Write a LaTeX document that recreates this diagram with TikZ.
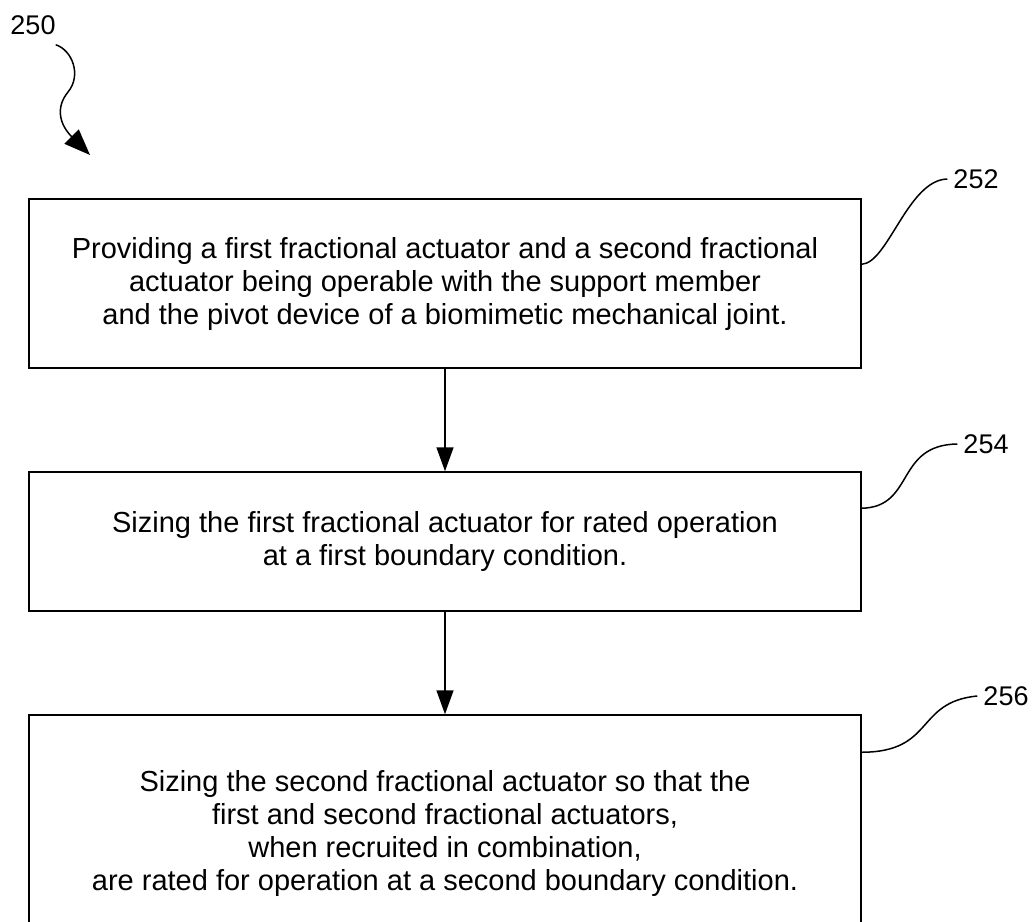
\documentclass[tikz,border=0pt]{standalone}
\usepackage{fontspec}
\setmainfont{Liberation Sans}
\usetikzlibrary{arrows.meta}
\tikzstyle{process} = [rectangle, draw, line width=1.5pt, minimum width=832pt, align=center, font=\fontsize{29pt}{33pt}\selectfont]
\tikzstyle{refnum} = [inner sep=6pt, font=\fontsize{27pt}{32pt}\selectfont]
\tikzstyle{leader} = [line width=1.5pt]
\tikzstyle{arrow} = [line width=1.5pt, -{Triangle[length=24pt,width=17pt]}]

\begin{document}
\begin{tikzpicture}[x=1pt, y=-1pt]
    \useasboundingbox (0,0) rectangle (1035,921);
    \clip (0,0) rectangle (1035,921);

    \node [process, minimum height=169pt] at (445,283.5) (box1) {Providing a first fractional actuator and a second fractional\\actuator being operable with the support member\\and the pivot device of a biomimetic mechanical joint.};
    \node [process, minimum height=139pt] at (445,541.5) (box2) {Sizing the first fractional actuator for rated operation\\at a first boundary condition.};
    \node [process, minimum height=236pt] at (445,833) (box3) {Sizing the second fractional actuator so that the\\first and second fractional actuators,\\when recruited in combination,\\are rated for operation at a second boundary condition.};

    \node [refnum] at (33,25) (n250) {250};
    \node [refnum] at (976,179) (n252) {252};
    \node [refnum] at (986,444) (n254) {254};
    \node [refnum] at (1006,696) (n256) {256};
    \coordinate (start) at (90,155);

    \draw [arrow] (box1) -- (box2);
    \draw [arrow] (box2) -- (box3);

    % reference leaders
    \draw [arrow, -{Triangle[length=26pt,width=20pt]}] ([xshift=-6pt,yshift=-4pt]n250.south east) .. controls (72,50) and (82,75) .. (68,92) .. controls (55,108) and (60,125) .. (start);
    \draw [leader] ([yshift=-66pt]box1.north east) .. controls (888,263) and (908,180) .. (n252.west);
    \draw [leader] ([yshift=-37pt]box2.north east) .. controls (915,507) and (895,445) .. (n254.west);
    \draw [leader] ([yshift=-38pt]box3.north east) .. controls (935,752) and (915,702) .. (n256.west);
\end{tikzpicture}
\end{document}
